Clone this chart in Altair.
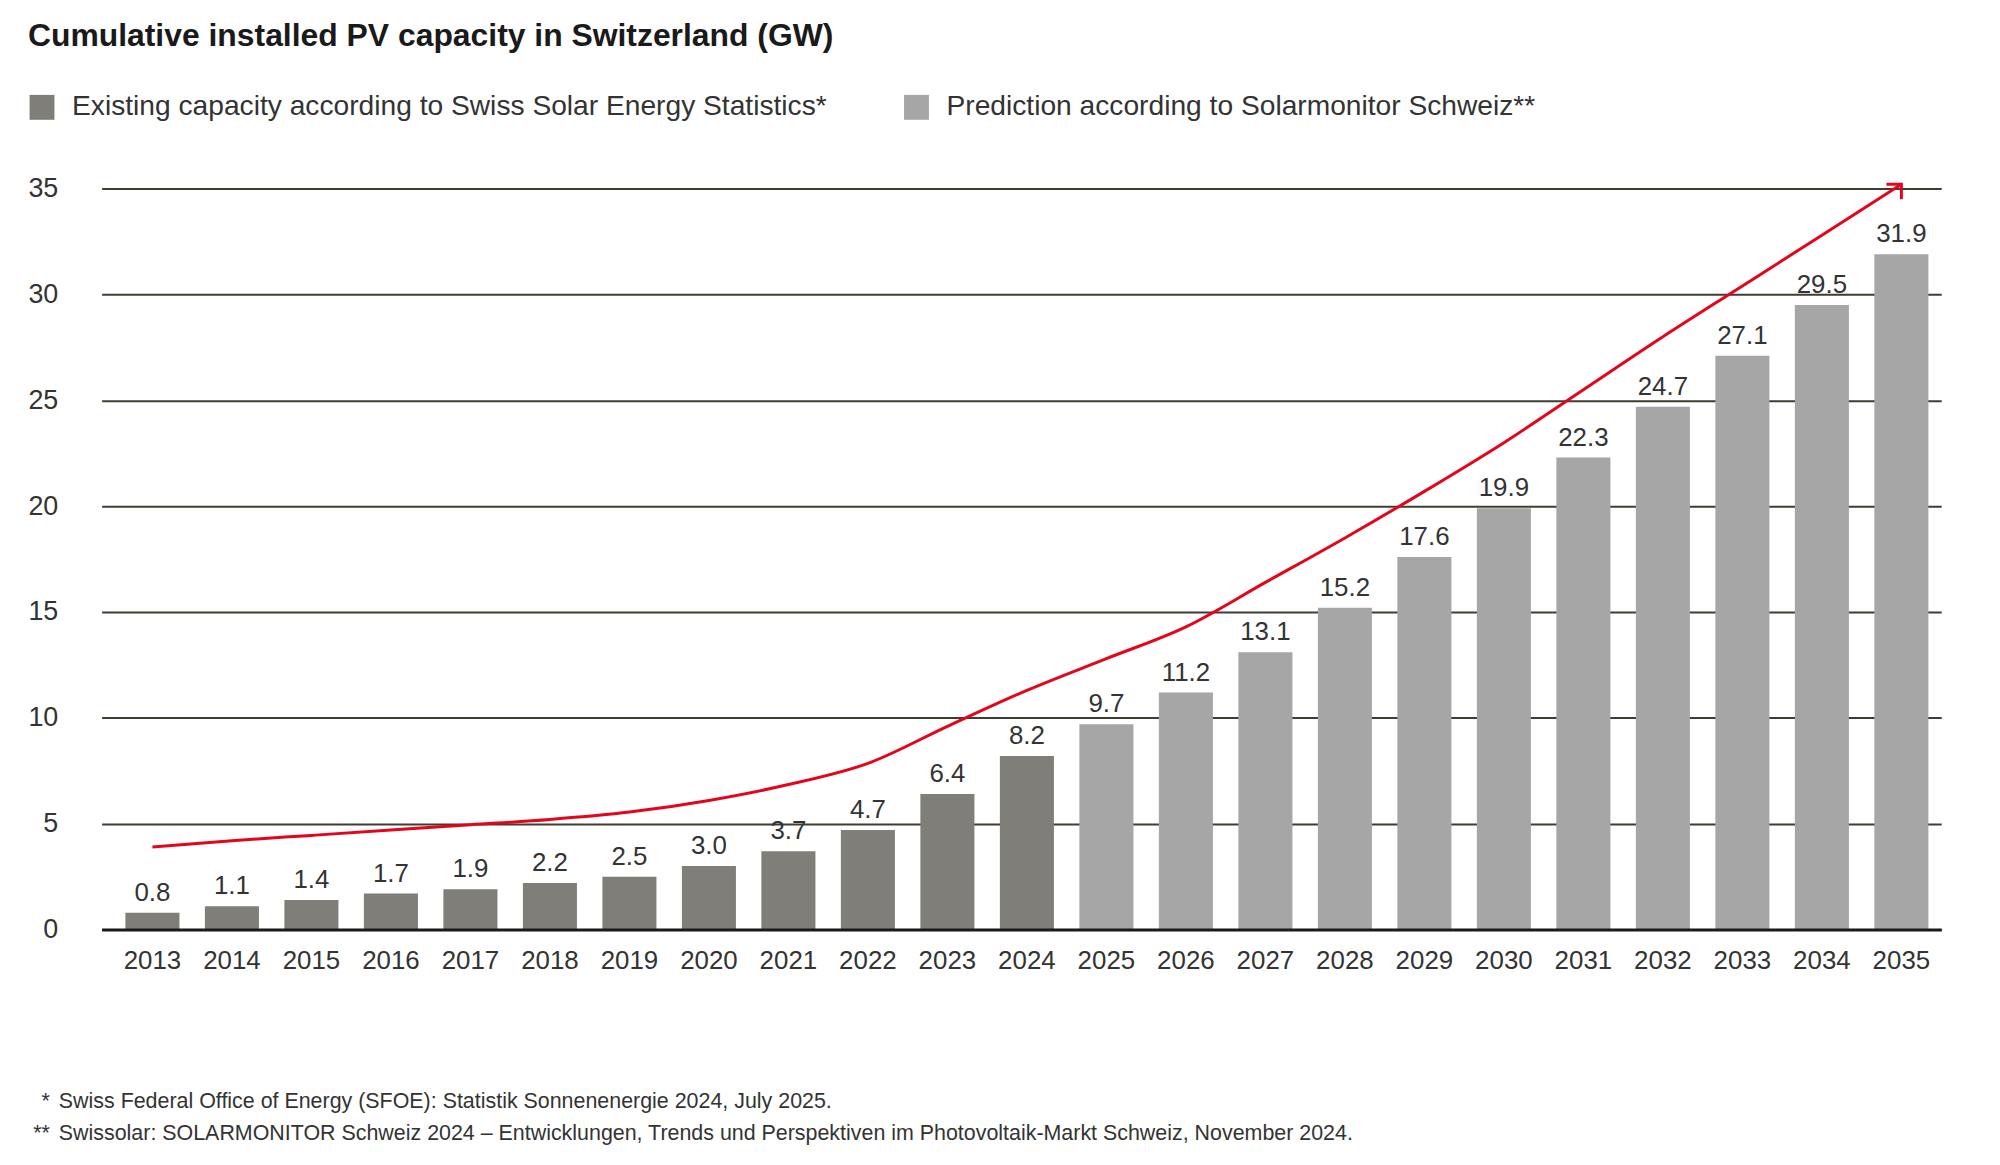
import altair as alt
import pandas as pd

# ---------------- data ----------------
years = [str(y) for y in range(2013, 2036)]
capacity = [0.8, 1.1, 1.4, 1.7, 1.9, 2.2, 2.5, 3.0, 3.7, 4.7, 6.4, 8.2,
            9.7, 11.2, 13.1, 15.2, 17.6, 19.9, 22.3, 24.7, 27.1, 29.5, 31.9]
series_names = ["Existing capacity according to Swiss Solar Energy Statistics*",
                "Prediction according to Solarmonitor Schweiz**"]
series = [series_names[0]] * 12 + [series_names[1]] * 11
trend = [3.9, 4.2, 4.45, 4.7, 4.95, 5.2, 5.55, 6.1, 6.85, 7.85, 9.6, 11.3,
         12.8, 14.3, 16.4, 18.5, 20.7, 23.0, 25.5, 28.0, 30.4, 32.8, 35.2]
y_ticks = [0, 5, 10, 15, 20, 25, 30, 35]
series_colors = ["#7f7e79", "#a6a6a6"]
title_text = "Cumulative installed PV capacity in Switzerland (GW)"
footnote_marks = ["*", "**"]
footnotes = [
    "Swiss Federal Office of Energy (SFOE): Statistik Sonnenenergie 2024, July 2025.",
    "Swissolar: SOLARMONITOR Schweiz 2024 \u2013 Entwicklungen, Trends und Perspektiven im Photovoltaik-Markt Schweiz, November 2024.",
]

FONT = "Liberation Sans, Arial, sans-serif"
TEXT = "#333333"
RED = "#e3051b"

df = pd.DataFrame({"year": years, "capacity": capacity, "series": series, "trend": trend})

x_enc = alt.X(
    "year:N", sort=years,
    scale=alt.Scale(paddingInner=0.32, paddingOuter=0.23, align=0.65),
    axis=alt.Axis(title=None, labelAngle=0, labelFontSize=26, labelFont=FONT,
                  labelColor=TEXT, ticks=False, tickSize=0, labelPadding=18,
                  domainColor="#1a1a1a", domainWidth=3, zindex=1, grid=False),
)
y_scale = alt.Scale(domain=[0, 35], nice=False)

base = alt.Chart(df)

bars = base.mark_bar().encode(
    x=x_enc,
    y=alt.Y("capacity:Q", scale=y_scale,
            axis=alt.Axis(title=None, values=y_ticks, domain=False, ticks=False, tickSize=0,
                          labelFontSize=27, labelFont=FONT, labelColor=TEXT,
                          labelPadding=44, grid=True, gridColor="#403d30",
                          gridWidth=2)),
    color=alt.Color("series:N", scale=alt.Scale(domain=series_names, range=series_colors),
                    legend=alt.Legend(orient="none", legendX=-74, legendY=-96,
                                      direction="horizontal", title=None,
                                      symbolType="square", symbolSize=625,
                                      symbolStrokeWidth=0, labelFontSize=28.3,
                                      labelFont=FONT, labelColor=TEXT, labelOffset=16,
                                      columnPadding=75, padding=0, labelLimit=2000)),
)

labels = base.mark_text(dy=-12, baseline="alphabetic", fontSize=26, font=FONT,
                        color=TEXT).encode(
    x=alt.X("year:N", sort=years),
    y=alt.Y("capacity:Q", scale=y_scale),
    text=alt.Text("capacity:Q", format=".1f"),
)

line = base.mark_line(color=RED, strokeWidth=3, interpolate="monotone").encode(
    x=alt.X("year:N", sort=years),
    y=alt.Y("trend:Q", scale=y_scale),
)

arrow = base.transform_filter(alt.datum.year == years[-1]).mark_point(
    shape="M -1 0 L 0 0 L 0 1", size=900, filled=False, color=RED,
    strokeWidth=3, opacity=1,
).encode(
    x=alt.X("year:N", sort=years),
    y=alt.Y("trend:Q", scale=y_scale),
)

one = pd.DataFrame({"k": [0]})

title = alt.Chart(one).mark_text(
    align="left", baseline="alphabetic", fontSize=32, fontWeight="bold",
    font=FONT, color="#1a1a1a",
).encode(x=alt.value(-74), y=alt.value(-143), text=alt.value(title_text))

FN = 21.5
fn_star1 = alt.Chart(one).mark_text(
    align="right", baseline="alphabetic", fontSize=FN, font=FONT, color=TEXT,
).encode(x=alt.value(-52), y=alt.value(923), text=alt.value(footnote_marks[0]))
fn_text1 = alt.Chart(one).mark_text(
    align="left", baseline="alphabetic", fontSize=FN, font=FONT, color=TEXT,
).encode(x=alt.value(-43), y=alt.value(923), text=alt.value(footnotes[0]))
fn_star2 = alt.Chart(one).mark_text(
    align="right", baseline="alphabetic", fontSize=FN, font=FONT, color=TEXT,
).encode(x=alt.value(-52), y=alt.value(955), text=alt.value(footnote_marks[1]))
fn_text2 = alt.Chart(one).mark_text(
    align="left", baseline="alphabetic", fontSize=FN, font=FONT, color=TEXT,
).encode(x=alt.value(-43), y=alt.value(955), text=alt.value(footnotes[1]))

chart = alt.layer(
    bars, line, arrow, labels, title, fn_star1, fn_text1, fn_star2, fn_text2
).properties(
    width=1847, height=744,
    padding={"left": 94, "top": 179, "right": 51, "bottom": 226},
    autosize=alt.AutoSizeParams(type="none"),
    background="white",
).configure_view(stroke=None)

chart.save("out.html", embed_options={"renderer": "svg", "actions": False})
